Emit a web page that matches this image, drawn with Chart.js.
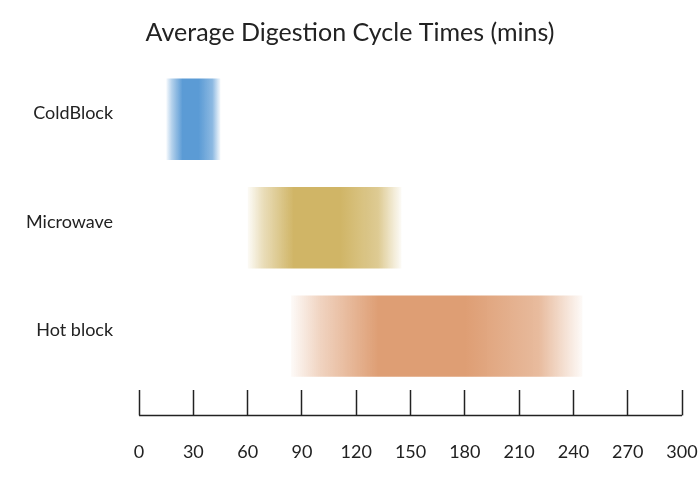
<!DOCTYPE html>
<html>
<head>
<meta charset="utf-8">
<script src="https://cdn.jsdelivr.net/npm/chart.js@4/dist/chart.umd.min.js"></script>
<style>
  html, body { margin: 0; padding: 0; background: #fff; }
  #wrap { width: 700px; height: 485px; }
</style>
</head>
<body>
<div id="wrap"><canvas id="chart"></canvas></div>
<script>
// categories and the start / end of each cycle time range (mins)
const methods = ['ColdBlock', 'Microwave', 'Hot block'];
const startTimes = [15, 60, 84];
const endTimes = [45, 145, 245];
const barColors = [[91, 155, 213], [208, 181, 102], [222, 158, 116]];
const xTicks = [0, 30, 60, 90, 120, 150, 180, 210, 240, 270, 300];

const FONT = 'Lato, "Noto Sans", sans-serif';

// fade each bar out at both ends
function fadeFill(ctx) {
  const chart = ctx.chart;
  if (!chart.chartArea || !ctx.raw) return 'rgba(0,0,0,0)';
  const xs = chart.scales.x;
  const x0 = xs.getPixelForValue(ctx.raw[0]);
  const x1 = xs.getPixelForValue(ctx.raw[1]);
  const [r, g, b] = barColors[ctx.dataIndex];
  const grad = chart.ctx.createLinearGradient(x0, 0, x1, 0);
  const c = a => `rgba(${r},${g},${b},${a})`;
  grad.addColorStop(0, c(0.05));
  grad.addColorStop(0.1, c(0.45));
  grad.addColorStop(0.3, c(1));
  grad.addColorStop(0.6, c(1));
  grad.addColorStop(0.85, c(0.7));
  grad.addColorStop(1, c(0.05));
  return grad;
}

// line under the tick marks
const baseLine = {
  id: 'baseLine',
  afterDraw(chart) {
    const xs = chart.scales.x;
    const y = xs.top + xs.options.grid.tickLength;
    const c = chart.ctx;
    c.save();
    c.strokeStyle = '#222';
    c.lineWidth = 1.5;
    c.beginPath();
    c.moveTo(xs.left, y);
    c.lineTo(xs.right, y);
    c.stroke();
    c.restore();
  }
};

new Chart(document.getElementById('chart'), {
  type: 'bar',
  data: {
    labels: methods,
    datasets: [{
      data: methods.map((m, i) => [startTimes[i], endTimes[i]]),
      backgroundColor: fadeFill,
      borderWidth: 0,
      barPercentage: 0.75,
      categoryPercentage: 1
    }]
  },
  options: {
    indexAxis: 'y',
    responsive: true,
    maintainAspectRatio: false,
    animation: false,
    layout: { padding: { left: 0, right: 0, bottom: -4, top: 0 } },
    plugins: {
      legend: { display: false },
      tooltip: { enabled: false },
      title: {
        display: true,
        text: 'Average Digestion Cycle Times (mins)',
        color: '#222',
        font: { family: FONT, size: 25, weight: 'normal' },
        padding: { top: 18, bottom: 17 }
      }
    },
    scales: {
      x: {
        min: 0,
        max: 300,
        afterBuildTicks: axis => { axis.ticks = xTicks.map(v => ({ value: v })); },
        // tick padding would otherwise also push the right edge in
        afterFit: axis => { axis.paddingRight = 18; },
        grid: {
          drawOnChartArea: false,
          drawTicks: true,
          tickLength: 25,
          tickWidth: 1.5,
          tickColor: '#222'
        },
        border: { display: false },
        ticks: {
          color: '#222',
          padding: 26,
          maxRotation: 0,
          font: { family: FONT, size: 18 }
        }
      },
      y: {
        grid: { display: false, drawTicks: false },
        border: { display: false },
        ticks: {
          color: '#222',
          padding: 26,
          labelOffset: -6,
          font: { family: FONT, size: 18 }
        }
      }
    }
  },
  plugins: [baseLine]
});
</script>
</body>
</html>
